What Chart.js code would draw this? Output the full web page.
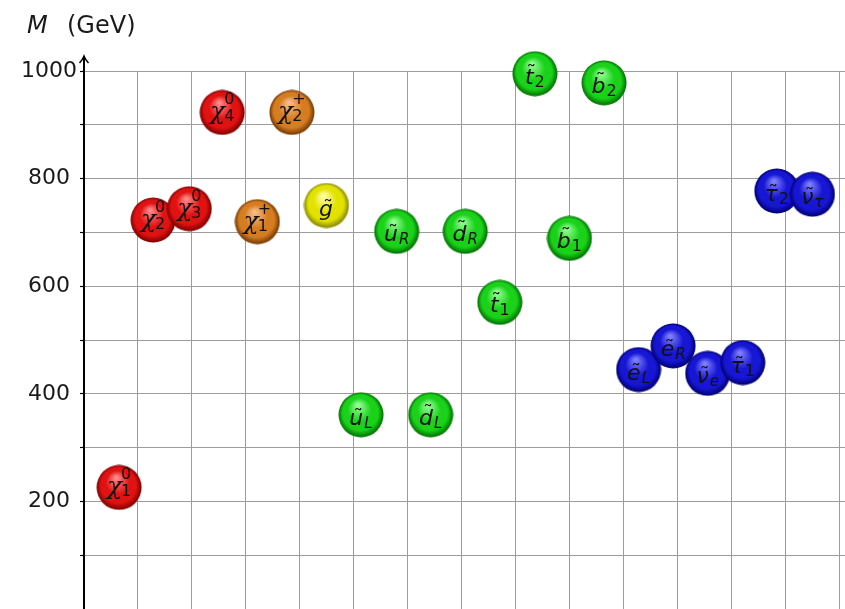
<!DOCTYPE html>
<html>
<head>
<meta charset="utf-8">
<script src="https://cdn.jsdelivr.net/npm/chart.js@4.4.1/dist/chart.umd.min.js"></script>
<style>
  html, body { margin: 0; padding: 0; background: #fff; }
  canvas { display: block; }
</style>
</head>
<body>
<canvas id="chart" width="845" height="609"></canvas>
<script>
// Particles, left to right: symbol, superscript, subscript
const symbols = ['χ', 'χ', 'χ', 'χ', 'χ', 'χ', 'g', 'u', 'u', 'd', 'd', 't', 't', 'b', 'b', 'e', 'e', 'ν', 'τ', 'τ', 'ν'];
const sups = ['0', '0', '0', '0', '+', '+', '', '', '', '', '', '', '', '', '', '', '', '', '', '', ''];
const subs = ['1', '2', '3', '4', '1', '2', '', 'L', 'R', 'L', 'R', '1', '2', '1', '2', 'L', 'R', 'e', '1', '2', 'τ'];
const groups = ['neutralino', 'neutralino', 'neutralino', 'neutralino', 'chargino', 'chargino', 'gluino',
  'squark', 'squark', 'squark', 'squark', 'squark', 'squark', 'squark', 'squark',
  'slepton', 'slepton', 'slepton', 'slepton', 'slepton', 'slepton'];

// Horizontal position (grid units) and mass M (GeV)
const xPos = [0.65, 1.28, 1.95, 2.56, 3.21, 3.85, 4.49, 5.13, 5.79, 6.42, 7.06, 7.70, 8.35, 8.99, 9.63, 10.27, 10.91, 11.55, 12.20, 12.83, 13.49];
const masses = [226, 723, 744, 923, 720, 923, 750, 361, 702, 361, 702, 570, 995, 689, 978, 445, 489, 438, 458, 777, 771];

const yTicks = [200, 400, 600, 800, 1000];

// light, base, dark
const groupColors = {
  neutralino: ['#ff8a8a', '#e01212', '#7a0000'],
  chargino: ['#f8be85', '#d67d22', '#703600'],
  gluino: ['#ffffa8', '#e2e200', '#848400'],
  squark: ['#96ff96', '#1ad21a', '#006c00'],
  slepton: ['#8080ff', '#1616d4', '#00006c']
};

// Ball image used as point style
const makeBall = ([light, base, dark]) => {
  const c = document.createElement('canvas');
  c.width = 46;
  c.height = 46;
  const g = c.getContext('2d');
  const grad = g.createRadialGradient(20, 13, 1, 23, 23, 22.5);
  grad.addColorStop(0, light);
  grad.addColorStop(0.5, base);
  grad.addColorStop(0.78, base);
  grad.addColorStop(1, dark);
  g.fillStyle = grad;
  g.beginPath();
  g.arc(23, 23, 22.5, 0, Math.PI * 2);
  g.fill();
  return c;
};

const balls = {};
Object.keys(groupColors).forEach((k) => { balls[k] = makeBall(groupColors[k]); });

const isDigit = (s) => /[0-9+]/.test(s);

// Draw one particle label centred on its ball
const drawLabel = (ctx, cx, cy, i) => {
  const sym = symbols[i];
  const sup = sups[i];
  const sub = subs[i];
  const chi = sym === 'χ';
  const mainFont = chi ? 'italic 25px "DejaVu Serif"' : 'italic 22px "DejaVu Sans"';
  const scriptFont = (s) => (isDigit(s) ? '16px "DejaVu Sans"' : 'italic 15px "DejaVu Sans"');

  ctx.save();
  ctx.fillStyle = '#111';
  ctx.textAlign = 'left';
  ctx.textBaseline = 'alphabetic';

  ctx.font = mainFont;
  const m = ctx.measureText(sym);
  let sw = 0;
  [sup, sub].forEach((s) => {
    if (s) {
      ctx.font = scriptFont(s);
      sw = Math.max(sw, ctx.measureText(s).width);
    }
  });
  const gap = chi ? -1 : 1;
  const x0 = cx - (m.width + gap + sw) / 2;
  const base = cy + (chi ? 7 : 10);

  ctx.font = mainFont;
  ctx.fillText(sym, x0, base);
  const sx = x0 + m.width + gap;
  if (sup) {
    ctx.font = scriptFont(sup);
    ctx.fillText(sup, sx, cy - 8);
  }
  if (sub) {
    ctx.font = scriptFont(sub);
    ctx.fillText(sub, sx, chi ? cy + 9 : cy + 13);
  }
  if (!chi) {
    // tilde above the letter
    ctx.font = '20px "DejaVu Sans"';
    const t = ctx.measureText('˜');
    const top = base - m.actualBoundingBoxAscent;
    ctx.textAlign = 'center';
    ctx.fillText('˜', x0 + m.width / 2 + 2, top - 2 - t.actualBoundingBoxDescent);
  }
  ctx.restore();
};

const labelPlugin = {
  id: 'particleLabels',
  afterDatasetsDraw(chart) {
    const meta = chart.getDatasetMeta(0);
    meta.data.forEach((pt, i) => drawLabel(chart.ctx, pt.x, pt.y, i));
  }
};

// Axis arrow and the "M (GeV)" title
const axisPlugin = {
  id: 'axisDecor',
  afterDraw(chart) {
    const ctx = chart.ctx;
    const x = chart.chartArea.left;
    const top = chart.chartArea.top;
    ctx.save();
    ctx.strokeStyle = '#000';
    ctx.lineWidth = 2;
    ctx.beginPath();
    ctx.moveTo(x, top);
    ctx.lineTo(x, top - 14);
    ctx.stroke();
    ctx.lineWidth = 1.4;
    ctx.beginPath();
    ctx.moveTo(x - 4.5, top - 8);
    ctx.quadraticCurveTo(x - 1, top - 12, x, top - 15);
    ctx.quadraticCurveTo(x + 1, top - 12, x + 4.5, top - 8);
    ctx.stroke();

    ctx.fillStyle = '#1a1a1a';
    ctx.textBaseline = 'alphabetic';
    ctx.font = 'italic 24px "DejaVu Sans"';
    ctx.fillText('M', 27, 33);
    ctx.font = '24px "DejaVu Sans"';
    ctx.fillText('(GeV)', 67, 33);
    ctx.restore();
  }
};

const chart = new Chart(document.querySelector('#chart'), {
  type: 'scatter',
  data: {
    datasets: [{
      data: xPos.map((x, i) => ({ x: x, y: masses[i] })),
      pointStyle: groups.map((g) => balls[g]),
      pointRadius: 22,
      clip: false
    }]
  },
  options: {
    responsive: false,
    devicePixelRatio: 1,
    animation: false,
    events: [],
    layout: { autoPadding: false, padding: { top: 71, left: 0, right: 0, bottom: 0 } },
    plugins: { legend: { display: false }, tooltip: { enabled: false } },
    scales: {
      x: {
        type: 'linear',
        min: 0,
        max: 14.093,
        afterFit: (s) => { s.height = 0; s.paddingLeft = 0; s.paddingRight = 0; },
        ticks: { display: false, stepSize: 1, includeBounds: false },
        grid: { color: '#9c9c9c', lineWidth: 1, drawTicks: false },
        border: { display: false }
      },
      y: {
        min: 0,
        max: 1000,
        afterFit: (s) => { s.width = 84; s.paddingTop = 0; s.paddingBottom = 0; },
        ticks: {
          stepSize: 100,
          autoSkip: false,
          crossAlign: 'center',
          padding: 3,
          color: '#1a1a1a',
          font: { family: 'DejaVu Sans', size: 22 },
          callback: (v) => (v === 0 ? null : (yTicks.includes(v) ? String(v) : ''))
        },
        grid: { color: '#9c9c9c', lineWidth: 1, tickLength: 4, tickColor: '#000', tickWidth: 1.2 },
        border: { display: true, color: '#000', width: 2 }
      }
    }
  },
  plugins: [labelPlugin, axisPlugin]
});
</script>
</body>
</html>
